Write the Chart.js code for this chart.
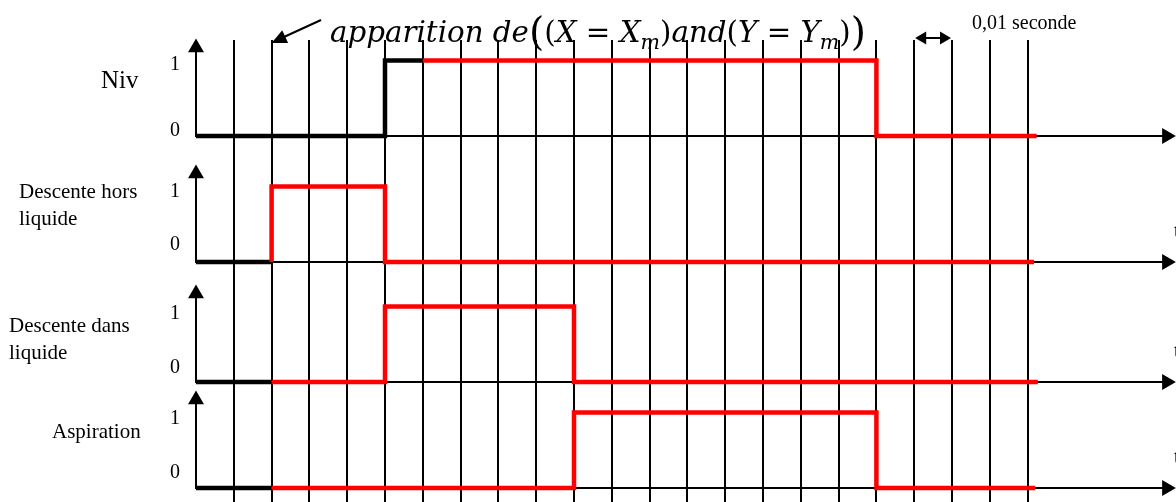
<!DOCTYPE html>
<html>
<head>
<meta charset="utf-8">
<script src="https://cdn.jsdelivr.net/npm/chart.js@4/dist/chart.umd.min.js"></script>
<style>
  html, body { margin: 0; padding: 0; background: #fff; }
  #wrap { width: 1176px; height: 502px; position: relative; }
</style>
</head>
<body>
<div id="wrap"><canvas id="chrono"></canvas></div>
<script>
// chronogramme des 4 signaux (pas de 0,01 s)
const rowNames = [['Niv'], ['Descente hors', 'liquide'], ['Descente dans', 'liquide'], ['Aspiration']];
const nivTimes = [0, 5, 18];
const nivLevels = [0, 1, 0];
const horsTimes = [0, 2, 5];
const horsLevels = [0, 1, 0];
const dansTimes = [0, 5, 10];
const dansLevels = [0, 1, 0];
const aspiTimes = [0, 10, 18];
const aspiLevels = [0, 1, 0];
const redStart = [6, 2, 2, 2];                 // le trace passe en rouge ici
const traceEnd = [22.24, 22.17, 22.27, 22.2];
const levelLabels = ['0', '1'];
const timeTicks = [1, 2, 3, 4, 5, 6, 7, 8, 9, 10, 11, 12, 13, 14, 15, 16, 17, 18, 19, 20, 21, 22];
const stepLabel = '0,01 seconde';
const axisLabel = 't';

// mise en page (unites des echelles)
const rowBase = [4.662, 2.993, 1.404, 0];
const axisTop = 1.17;
const axisEnd = 25.68;
const nameX = [-2.513, -4.683, -4.947, -3.81];
const nameY = [[0.636], [0.848, 0.49], [0.662, 0.305], [0.662]];
const digitY = [[0.066, 0.94], [0.225, 0.93], [0.185, 0.90], [0.2, 0.914]];

const signals = [
  [nivTimes, nivLevels],
  [horsTimes, horsLevels],
  [dansTimes, dansLevels],
  [aspiTimes, aspiLevels]
];

function corners(times, levels, end) {
  const pts = [{x: times[0], y: levels[0]}];
  for (let i = 1; i < times.length; i++) {
    pts.push({x: times[i], y: levels[i - 1]});
    pts.push({x: times[i], y: levels[i]});
  }
  pts.push({x: end, y: levels[levels.length - 1]});
  return pts;
}

function splitAt(pts, s) {
  const idx = pts.findIndex(p => p.x >= s);
  const lvl = pts[idx].x === s ? pts[idx].y : pts[idx - 1].y;
  const cut = {x: s, y: lvl};
  return [pts.slice(0, idx).concat(cut), [cut].concat(pts.slice(idx))];
}

const datasets = [];
signals.forEach(([times, levels], r) => {
  const base = rowBase[r];
  // axes avec fleches
  datasets.push({
    data: [{x: 0, y: base + axisTop}, {x: 0, y: base}, {x: axisEnd, y: base}],
    borderColor: '#000',
    borderWidth: 2,
    pointStyle: 'triangle',
    pointRadius: [9.2, 0, 9.2],
    pointRotation: [0, 0, 90],
    pointBackgroundColor: '#000',
    pointBorderWidth: 0,
    order: 3,
    clip: false
  });
  const [black, red] = splitAt(corners(times, levels, traceEnd[r]), redStart[r]);
  datasets.push({
    data: black.map(p => ({x: p.x, y: p.y + base})),
    borderColor: '#000',
    borderWidth: 4.5,
    pointRadius: 0,
    order: 2,
    clip: false
  });
  datasets.push({
    data: red.map(p => ({x: p.x, y: p.y + base})),
    borderColor: '#ff0000',
    borderWidth: 4.5,
    pointRadius: 0,
    order: 1,
    clip: false
  });
});

function arrowHead(ctx, tx, ty, dx, dy, len, half) {
  const n = Math.hypot(dx, dy);
  const ux = dx / n, uy = dy / n;
  const bx = tx - ux * len, by = ty - uy * len;
  ctx.beginPath();
  ctx.moveTo(tx, ty);
  ctx.lineTo(bx - uy * half, by + ux * half);
  ctx.lineTo(bx + uy * half, by - ux * half);
  ctx.closePath();
  ctx.fill();
}

const eventParts = [
  ['apparition de', 'i'], ['(', 'big'], ['(', 'r'], ['X', 'i'], [' = ', 'r'], ['X', 'i'], ['m', 'sub'],
  [')', 'r'], ['and', 'i'], ['(', 'r'], ['Y', 'i'], [' = ', 'r'], ['Y', 'i'], ['m', 'sub'], [')', 'r'], [')', 'big']
];
const partFont = {
  i: 'italic 30px "DejaVu Serif"',
  r: '30px "DejaVu Serif"',
  big: '40px "DejaVu Serif"',
  sub: 'italic 21px "DejaVu Serif"'
};

const textPlugin = {
  id: 'textes',
  afterDraw(chart) {
    const ctx = chart.ctx;
    const xs = chart.scales.x, ys = chart.scales.y;
    ctx.save();
    ctx.fillStyle = '#000';
    ctx.strokeStyle = '#000';

    // noms des signaux
    ctx.textAlign = 'left';
    ctx.textBaseline = 'alphabetic';
    rowNames.forEach((lines, r) => {
      ctx.font = r === 0 ? '25px "Liberation Serif"' : '21px "Liberation Serif"';
      lines.forEach((txt, j) => {
        ctx.fillText(txt, xs.getPixelForValue(nameX[r]), ys.getPixelForValue(rowBase[r] + nameY[r][j]));
      });
    });

    // niveaux 0 / 1
    ctx.font = '20px "Liberation Serif"';
    ctx.textAlign = 'center';
    ctx.textBaseline = 'middle';
    rowBase.forEach((base, r) => {
      levelLabels.forEach((lab, k) => {
        ctx.fillText(lab, xs.getPixelForValue(-0.556), ys.getPixelForValue(base + digitY[r][k]));
      });
    });

    // "t" en bout d'axe (coupe par le bord)
    ctx.textAlign = 'left';
    for (let r = 1; r < rowBase.length; r++) {
      ctx.fillText(axisLabel, xs.getPixelForValue(25.87), ys.getPixelForValue(rowBase[r] + 0.4));
    }

    // pas de temps
    ctx.font = '20px "Liberation Serif"';
    ctx.textBaseline = 'alphabetic';
    ctx.fillText(stepLabel, 972, 29);
    const ax0 = xs.getPixelForValue(19) + 1, ax1 = xs.getPixelForValue(20) - 1, ay = 38;
    ctx.lineWidth = 2;
    ctx.beginPath();
    ctx.moveTo(ax0 + 6, ay);
    ctx.lineTo(ax1 - 6, ay);
    ctx.stroke();
    arrowHead(ctx, ax0, ay, -1, 0, 11, 6.5);
    arrowHead(ctx, ax1, ay, 1, 0, 11, 6.5);

    // evenement
    let total = 0;
    eventParts.forEach(([t, f]) => { ctx.font = partFont[f]; total += ctx.measureText(t).width; });
    const sx = (866 - 330) / total;
    ctx.save();
    ctx.translate(330, 42);
    ctx.scale(sx, 1);
    let cx = 0;
    eventParts.forEach(([t, f]) => {
      ctx.font = partFont[f];
      ctx.fillText(t, cx, f === 'sub' ? 7 : (f === 'big' ? 3 : 0));
      cx += ctx.measureText(t).width;
    });
    ctx.restore();

    // fleche vers la 2e division
    const tx = xs.getPixelForValue(2), ty = 43;
    ctx.lineWidth = 2;
    ctx.beginPath();
    ctx.moveTo(321, 20);
    ctx.lineTo(tx + 8, ty - 4);
    ctx.stroke();
    arrowHead(ctx, tx, ty, tx - 321, ty - 20, 15, 7);

    ctx.restore();
  }
};

new Chart(document.getElementById('chrono'), {
  type: 'line',
  data: { datasets: datasets },
  options: {
    responsive: true,
    maintainAspectRatio: false,
    animation: false,
    events: [],
    layout: { autoPadding: false, padding: { top: 40, left: 0, right: 0, bottom: 0 } },
    elements: { line: { tension: 0, borderCapStyle: 'butt', borderJoinStyle: 'miter', fill: false } },
    plugins: { legend: { display: false }, tooltip: { enabled: false } },
    scales: {
      x: {
        type: 'linear',
        min: -5.185,
        max: 25.926,
        afterBuildTicks: (scale) => { scale.ticks = timeTicks.map(v => ({value: v})); },
        ticks: { display: false },
        border: { display: false },
        grid: { color: '#000', lineWidth: 2, drawTicks: false }
      },
      y: {
        type: 'linear',
        display: false,
        min: -0.185,
        max: 5.934
      }
    }
  },
  plugins: [textPlugin]
});
</script>
</body>
</html>
